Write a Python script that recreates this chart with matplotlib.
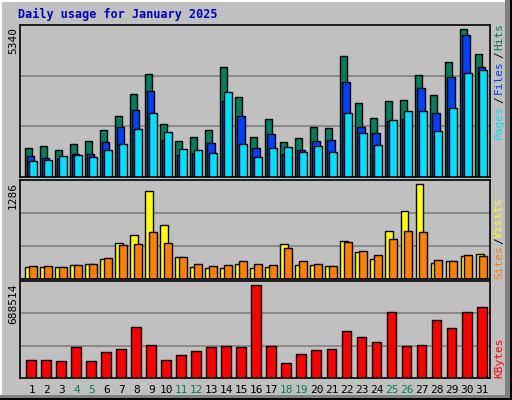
import matplotlib.pyplot as plt
from matplotlib.patches import Rectangle
import numpy as np

days = list(range(1, 32))
weekend = [4, 5, 11, 12, 18, 19, 25, 26]

hits = [1033, 1104, 963, 1174, 1280, 1667, 2160, 2900, 3604, 1878, 1280, 1420, 1667, 3851, 2794, 1420,
        2055, 1244, 1385, 1773, 1738, 4238, 2583, 2090, 2653, 2688, 3569, 2865, 4027, 5189, 4309]
files = [751, 681, 646, 822, 822, 1244, 1773, 2371, 3005, 1315, 787, 857, 1209, 2653, 2160, 1033,
         1526, 822, 963, 1280, 1315, 3322, 1773, 1561, 1984, 2055, 3111, 2231, 3498, 4978, 3851]
pages = [575, 610, 751, 787, 716, 963, 1174, 1702, 2231, 1597, 998, 963, 857, 2970, 1174, 716,
         1033, 1068, 892, 1104, 892, 2231, 1561, 1139, 2019, 2336, 2336, 1632, 2407, 3639, 3745]
visits = [161, 161, 161, 188, 201, 255, 469, 576, 1139, 697, 281, 161, 147, 147, 201, 147,
          161, 455, 188, 188, 174, 496, 348, 255, 630, 884, 1232, 214, 228, 295, 321]
sites = [174, 174, 161, 188, 201, 268, 442, 455, 616, 469, 281, 201, 174, 188, 228, 201,
         188, 402, 228, 201, 174, 482, 362, 308, 522, 630, 616, 241, 228, 308, 295]
kbytes = [127600, 127600, 120000, 219000, 120000, 185000, 205000, 364000, 234000, 128000, 161000,
          190000, 219000, 226000, 219000, 660000, 226000, 104000, 169000, 197000, 205000, 335000,
          291000, 255000, 472000, 226000, 234000, 414000, 356000, 472000, 501000]

BG = '#c0c0c0'
W, H = 512, 400
fig = plt.figure(figsize=(W / 100, H / 100), dpi=100, facecolor=BG)
plt.rcParams['font.family'] = ['DejaVu Sans Mono']

# 3D frame
fig.patches.append(Rectangle((0, 0), 1, 1, transform=fig.transFigure, fill=False,
                             edgecolor='white', lw=2))
fig.patches.append(Rectangle((505 / W, 0), 7 / W, 1, transform=fig.transFigure,
                             color='#808080', lw=0))
fig.patches.append(Rectangle((0, 0), 1, 5 / H, transform=fig.transFigure,
                             color='#808080', lw=0))
fig.patches.append(Rectangle((510 / W, 0), 2 / W, 1, transform=fig.transFigure,
                             color='black', lw=0))
fig.patches.append(Rectangle((0, 0), 1, 2 / H, transform=fig.transFigure,
                             color='black', lw=0))

x = np.arange(31)
XMAX = 470 / 15.01


def panel(top, bottom):
    ax = fig.add_axes([20 / W, 1 - bottom / H, 470 / W, (bottom - top) / H])
    ax.set_facecolor(BG)
    ax.set_xlim(0, XMAX)
    ax.set_xticks([])
    ax.set_yticks([])
    for s in ax.spines.values():
        s.set_color('black')
        s.set_linewidth(1.2)
    return ax


def grid(ax, ymax):
    for f in (1 / 3, 2 / 3):
        ax.axhline(ymax * f, color='#808080', lw=1.2, zorder=0)
    ax.set_ylim(0, ymax * 1.0)


kw = dict(align='edge', edgecolor='black', linewidth=1)

ax1 = panel(25, 177)
grid(ax1, 5340)
ax1.bar(x + 0.33, hits, 0.48, color='#00805c', **kw)
ax1.bar(x + 0.48, files, 0.48, color='#0040ff', **kw)
ax1.bar(x + 0.60, pages, 0.50, color='#00e0ff', **kw)

ax2 = panel(180, 279)
grid(ax2, 1286)
ax2.bar(x + 0.35, visits, 0.53, color='#ffff00', **kw)
ax2.bar(x + 0.61, sites, 0.49, color='#ff8000', **kw)

ax3 = panel(281, 378)
grid(ax3, 688514)
ax3.bar(x + 0.42, kbytes, 0.66, color='#ff0000', **kw)

for i, d in enumerate(days):
    fig.text((20 + (i + 0.78) * 15.01) / W, 1 - 390 / H, str(d), ha='center', va='center',
             fontsize=8, color='#00805c' if d in weekend else 'black')

fig.text(18 / W, 1 - 14 / H, 'Daily usage for January 2025', color='#0000c0',
         fontsize=8.5, fontweight='bold', va='center', ha='left')

for ytop, lab in ((25, '5340'), (180, '1286'), (281, '688514')):
    fig.text(13 / W, 1 - (ytop + 2) / H, lab, rotation=90, ha='center', va='top', fontsize=8)

# right labels, bottom to top
def rlabel(yc, s, c):
    fig.text(499 / W, 1 - yc / H, s, rotation=90, ha='center', va='center', fontsize=8, color=c)

rlabel(122, 'Pages', '#00e0ff')
rlabel(100, '/', 'black')
rlabel(77, 'Files', '#0040ff')
rlabel(55, '/', 'black')
rlabel(37, 'Hits', '#00805c')
rlabel(262, 'Sites', '#ff8000')
rlabel(241, '/', 'black')
rlabel(218, 'Visits', '#ffff00')
rlabel(358, 'KBytes', '#ff0000')

fig.savefig('out.png', dpi=100, facecolor=BG)
